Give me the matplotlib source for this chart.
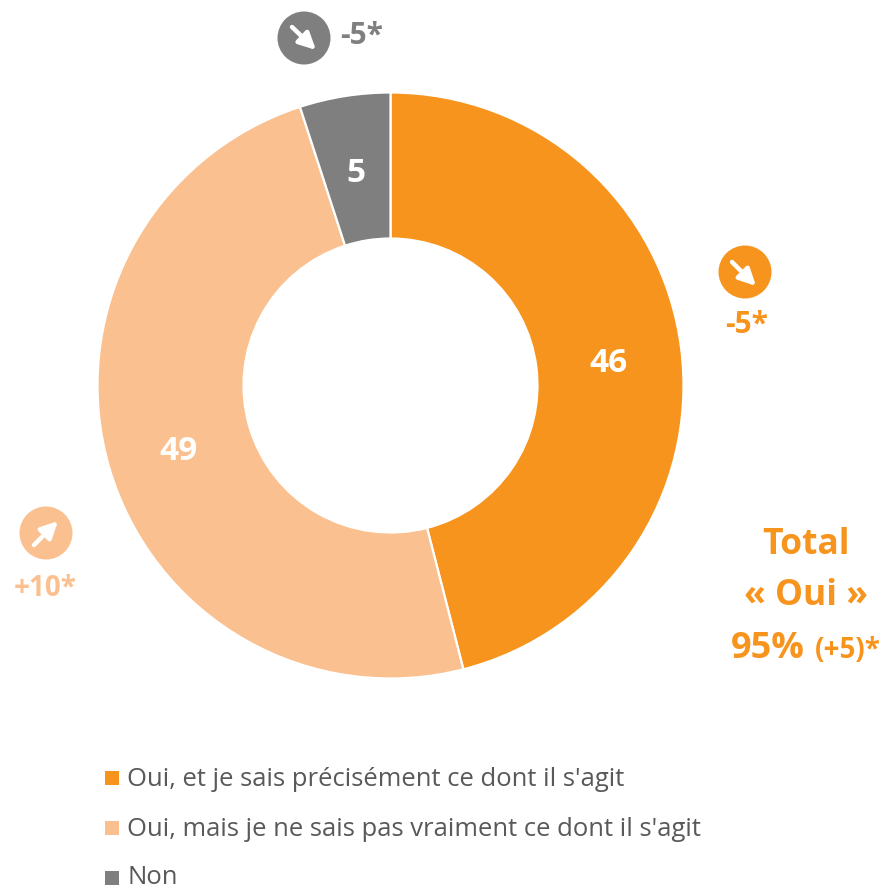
import matplotlib
matplotlib.use('Agg')
import matplotlib.pyplot as plt
from matplotlib.patches import Circle, Rectangle

plt.rcParams['font.family'] = ['Open Sans', 'DejaVu Sans']

labels = ['Oui, et je sais précisément ce dont il s\'agit',
          'Oui, mais je ne sais pas vraiment ce dont il s\'agit',
          'Non']
values = [46, 49, 5]
colors = ['#F7941D', '#FBC08F', '#7F7F7F']

W, H = 884, 890
fig = plt.figure(figsize=(W / 100, H / 100), dpi=100)

# axe en pixels, origine en haut a gauche comme l'image
ax = fig.add_axes([0, 0, 1, 1])
ax.set_xlim(0, W)
ax.set_ylim(0, H)
ax.axis('off')

cx, cy, r = 390.5, H - 385.5, 293
wedges, _ = ax.pie(values, colors=colors, startangle=90, counterclock=False,
                   center=(cx, cy), radius=r, frame=True,
                   wedgeprops=dict(width=r - 147, edgecolor='white', linewidth=1.6))
ax.set_xlim(0, W)
ax.set_ylim(0, H)
ax.set_aspect('auto')
ax.axis('off')


def px(x, y):
    return x, H - y


# valeurs dans l'anneau
value_pos = [(608, 363), (179, 451), (356, 173)]
for v, (x, y) in zip(values, value_pos):
    ax.text(*px(x, y), str(v), color='white', fontsize=24, fontweight='bold',
            ha='center', va='center')

# pastilles avec fleche
badges = [(304, 38, '#7F7F7F', (292, 27), (316, 50)),
          (745, 272, '#F7941D', (732, 262), (756, 286)),
          (46, 533, '#FBC08F', (34, 545), (58, 521))]
for x, y, c, tail, tip in badges:
    ax.add_patch(Circle(px(x, y), 26.5, color=c, lw=0))
    ax.annotate('', xy=px(*tip), xytext=px(*tail),
                arrowprops=dict(arrowstyle='-|>,head_width=0.5,head_length=1.0',
                                color='white', lw=3.2, shrinkA=0, shrinkB=0,
                                mutation_scale=10))

ax.text(*px(361.5, 36), '-5*', color='#7F7F7F', fontsize=21.5, fontweight='bold', ha='center', va='center')
ax.text(*px(747, 325), '-5*', color='#F7941D', fontsize=21.5, fontweight='bold', ha='center', va='center')
ax.text(*px(45, 589), '+10*', color='#FBC08F', fontsize=20, fontweight='bold', ha='center', va='center')

# total
ax.text(*px(806, 545), 'Total', color='#F7941D', fontsize=25.5, fontweight='bold', ha='center', va='center')
ax.text(*px(806.5, 596), '« Oui »', color='#F7941D', fontsize=25.5, fontweight='bold', ha='center', va='center')
ax.text(*px(731, 649), '95%', color='#F7941D', fontsize=26, fontweight='bold', ha='left', va='center')
ax.text(*px(815, 651), '(+5)*', color='#F7941D', fontsize=20, fontweight='bold', ha='left', va='center')

# legende
leg_y = [780, 830, 878]
box_y = [778, 828, 878]
for lab, c, y, by in zip(labels, colors, leg_y, box_y):
    ax.add_patch(Rectangle(px(105, by + 7), 14, 14, color=c, lw=0))
    ax.text(*px(127, y), lab, color='#595959', fontsize=18.45, ha='left', va='center')

fig.savefig('out.png', dpi=100)
